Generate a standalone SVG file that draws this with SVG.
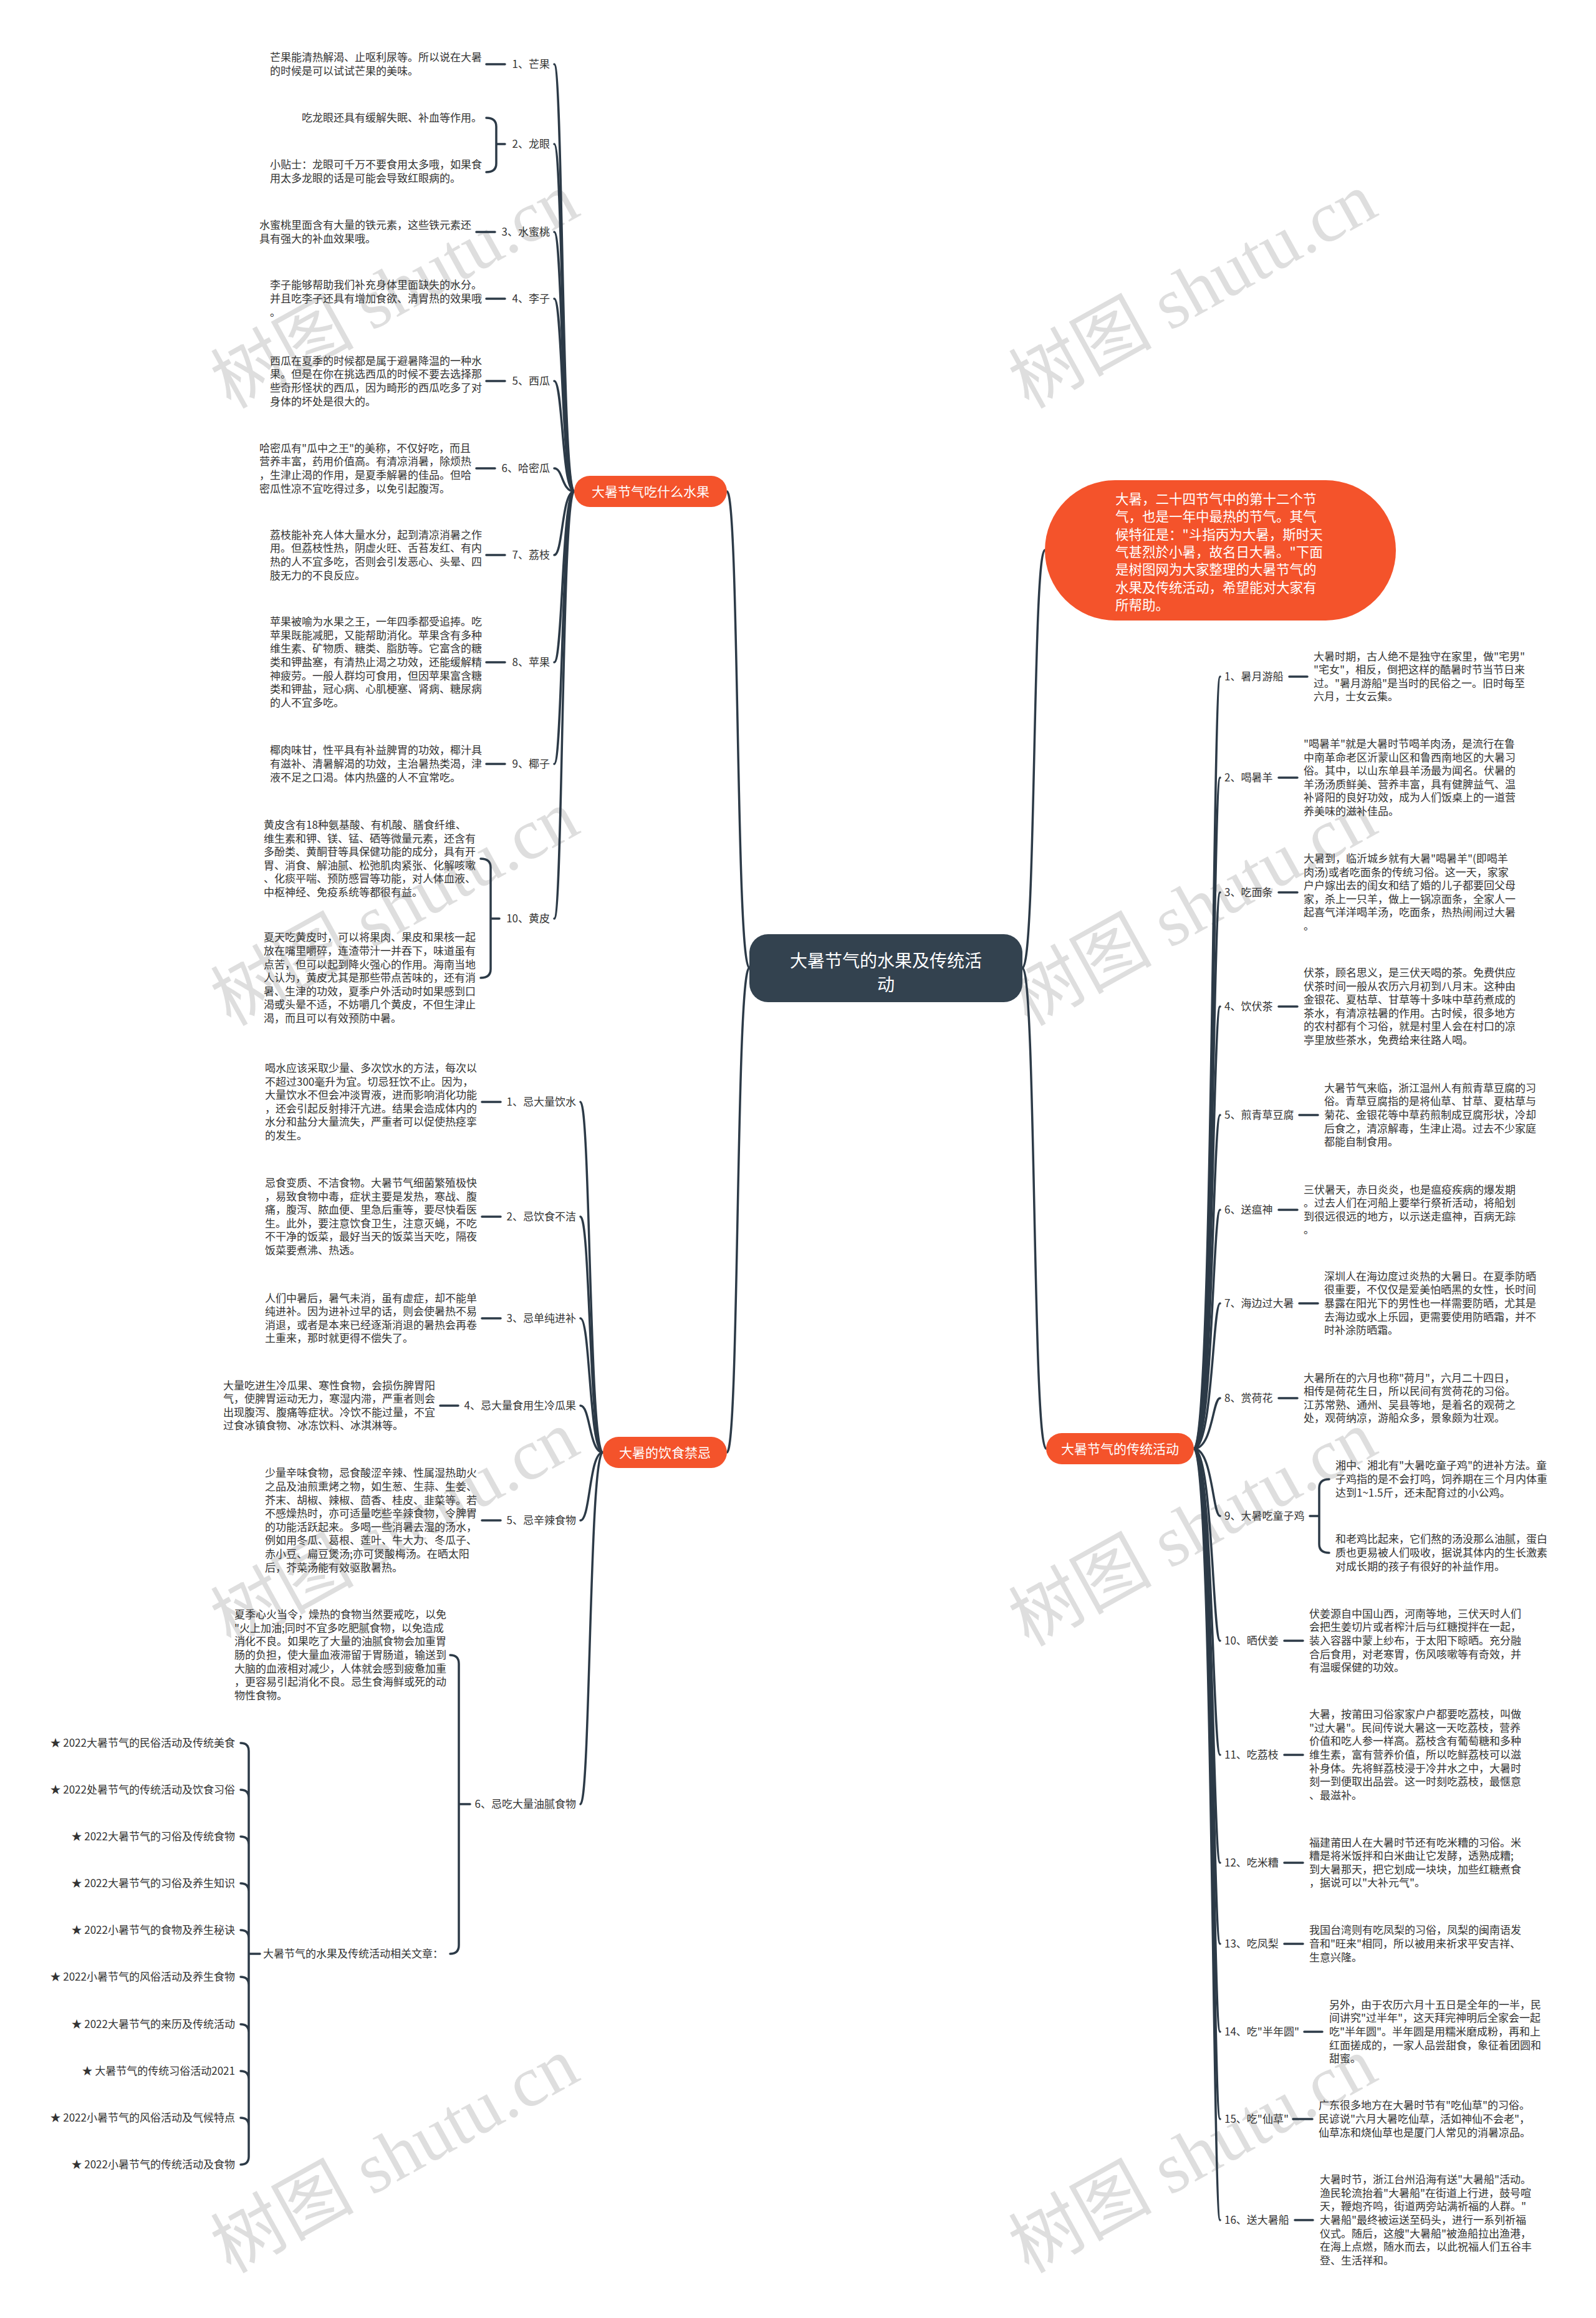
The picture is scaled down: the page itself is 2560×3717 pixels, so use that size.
<svg xmlns="http://www.w3.org/2000/svg" width="2560" height="3717" viewBox="0 0 2560 3717">
<style>
text{font-family:"Noto Sans CJK SC","Liberation Sans",sans-serif;}
.t{font-size:17px;fill:#333333;}
.e{text-anchor:end;}
.ln{fill:none;stroke:#2c3a47;stroke-width:3.5;stroke-linecap:round;}
.pill{fill:#f4532b;}
.pt{font-size:21px;fill:#ffffff;text-anchor:middle;}
.wm{font-family:"Liberation Serif","Noto Sans CJK SC",serif;font-size:115px;fill:#dedede;}
</style>
<rect width="2560" height="3717" fill="#ffffff"/>
<g id="watermarks">
<text class="wm" transform="translate(652,500) rotate(-29)" text-anchor="middle">树图 shutu.cn</text>
<text class="wm" transform="translate(1932,500) rotate(-29)" text-anchor="middle">树图 shutu.cn</text>
<text class="wm" transform="translate(652,1490) rotate(-29)" text-anchor="middle">树图 shutu.cn</text>
<text class="wm" transform="translate(1932,1490) rotate(-29)" text-anchor="middle">树图 shutu.cn</text>
<text class="wm" transform="translate(652,2485) rotate(-29)" text-anchor="middle">树图 shutu.cn</text>
<text class="wm" transform="translate(1932,2485) rotate(-29)" text-anchor="middle">树图 shutu.cn</text>
<text class="wm" transform="translate(652,3490) rotate(-29)" text-anchor="middle">树图 shutu.cn</text>
<text class="wm" transform="translate(1932,3490) rotate(-29)" text-anchor="middle">树图 shutu.cn</text>
</g>
<g id="connectors">
<path class="ln" d="M1202,1552 C1180,1552 1186,788 1166,788"/>
<path class="ln" d="M1202,1552 C1180,1552 1186,2329 1166,2329"/>
<path class="ln" d="M1640,1552 C1662,1552 1656,882 1676,882"/>
<path class="ln" d="M1640,1552 C1662,1552 1656,2323 1678,2323"/>
<path class="ln" d="M921,788 C901,788 903,103 889,103"/>
<path class="ln" d="M921,788 C901,788 903,231 889,231"/>
<path class="ln" d="M921,788 C901,788 903,372 889,372"/>
<path class="ln" d="M921,788 C901,788 903,479 889,479"/>
<path class="ln" d="M921,788 C901,788 903,611 889,611"/>
<path class="ln" d="M921,788 C901,788 903,751 889,751"/>
<path class="ln" d="M921,788 C901,788 903,890 889,890"/>
<path class="ln" d="M921,788 C901,788 903,1062 889,1062"/>
<path class="ln" d="M921,788 C901,788 903,1225 889,1225"/>
<path class="ln" d="M921,788 C901,788 903,1473 889,1473"/>
<path class="ln" d="M780,103 L810,103 M764,372 L794,372 M780,479 L810,479 M780,611 L810,611 M764,751 L794,751 M780,890 L810,890 M780,1062 L810,1062 M780,1225 L810,1225"/>
<path class="ln" d="M810,231 L796,231 M780,189 Q796,189 796,203 L796,262 Q796,276 780,276"/>
<path class="ln" d="M801,1473 L787,1473 M771,1377 Q787,1377 787,1391 L787,1554 Q787,1568 771,1568"/>
<path class="ln" d="M967,2329 C945,2329 947,1767 931,1767"/>
<path class="ln" d="M967,2329 C945,2329 947,1951 931,1951"/>
<path class="ln" d="M967,2329 C945,2329 947,2114 931,2114"/>
<path class="ln" d="M967,2329 C945,2329 947,2254 931,2254"/>
<path class="ln" d="M967,2329 C945,2329 947,2438 931,2438"/>
<path class="ln" d="M967,2329 C945,2329 947,2893 931,2893"/>
<path class="ln" d="M773,1767 L803,1767 M773,1951 L803,1951 M773,2114 L803,2114 M706,2254 L735,2254 M773,2438 L803,2438"/>
<path class="ln" d="M754,2893 L736,2893 M722,2654 Q736,2654 736,2668 L736,3119 Q736,3133 722,3133"/>
<path class="ln" d="M417,3133 L399,3133 M386,2795 Q399,2795 399,2808 L399,3458 Q399,3471 386,3471 M386,2870 Q399,2870 399,2883 M386,2945 Q399,2945 399,2958 M386,3020 Q399,3020 399,3033 M386,3095 Q399,3095 399,3108 M386,3170 Q399,3170 399,3183 M386,3246 Q399,3246 399,3259 M386,3321 Q399,3321 399,3334 M386,3396 Q399,3396 399,3409"/>
<path class="ln" d="M1915,2323 C1945,2323 1945,1085 1957,1085"/>
<path class="ln" d="M1915,2323 C1945,2323 1945,1247 1957,1247"/>
<path class="ln" d="M1915,2323 C1945,2323 1945,1431 1957,1431"/>
<path class="ln" d="M1915,2323 C1945,2323 1945,1614 1957,1614"/>
<path class="ln" d="M1915,2323 C1945,2323 1945,1788 1957,1788"/>
<path class="ln" d="M1915,2323 C1945,2323 1945,1940 1957,1940"/>
<path class="ln" d="M1915,2323 C1945,2323 1945,2090 1957,2090"/>
<path class="ln" d="M1915,2323 C1945,2323 1945,2242 1957,2242"/>
<path class="ln" d="M1915,2323 C1945,2323 1945,2431 1957,2431"/>
<path class="ln" d="M1915,2323 C1945,2323 1945,2631 1957,2631"/>
<path class="ln" d="M1915,2323 C1945,2323 1945,2814 1957,2814"/>
<path class="ln" d="M1915,2323 C1945,2323 1945,2987 1957,2987"/>
<path class="ln" d="M1915,2323 C1945,2323 1945,3117 1957,3117"/>
<path class="ln" d="M1915,2323 C1945,2323 1945,3258 1957,3258"/>
<path class="ln" d="M1915,2323 C1945,2323 1945,3398 1957,3398"/>
<path class="ln" d="M1915,2323 C1945,2323 1945,3560 1957,3560"/>
<path class="ln" d="M2068,1085 L2097,1085 M2051,1247 L2081,1247 M2051,1431 L2081,1431 M2051,1614 L2081,1614 M2084,1788 L2114,1788 M2051,1940 L2081,1940 M2084,2090 L2114,2090 M2051,2242 L2081,2242 M2060,2631 L2090,2631 M2060,2814 L2090,2814 M2060,2987 L2090,2987 M2060,3117 L2090,3117 M2092,3258 L2121,3258 M2074,3398 L2105,3398 M2077,3560 L2106,3560"/>
<path class="ln" d="M2101,2431 L2116,2431 M2132,2372 Q2116,2372 2116,2386 L2116,2476 Q2116,2490 2132,2490"/>
</g>
<g id="center">
<rect x="1202" y="1498" width="438" height="109" rx="30" fill="#33424f"/>
<text x="1421" y="1551" font-size="28" fill="#ffffff" text-anchor="middle">大暑节气的水果及传统活</text>
<text x="1421" y="1589" font-size="28" fill="#ffffff" text-anchor="middle">动</text>
</g>
<g id="intro">
<rect x="1676" y="770" width="563" height="225" rx="112.5" class="pill"/>
<text font-size="21.5" fill="#ffffff">
<tspan x="1789" y="808">大暑，二十四节气中的第十二个节</tspan>
<tspan x="1789" y="836">气，也是一年中最热的节气。其气</tspan>
<tspan x="1789" y="865">候特征是："斗指丙为大暑，斯时天</tspan>
<tspan x="1789" y="893">气甚烈於小暑，故名日大暑。"下面</tspan>
<tspan x="1789" y="921">是树图网为大家整理的大暑节气的</tspan>
<tspan x="1789" y="950">水果及传统活动，希望能对大家有</tspan>
<tspan x="1789" y="978">所帮助。</tspan>
</text>
</g>
<g id="branch-fruits">
<rect x="921" y="763" width="245" height="50" rx="25" class="pill"/>
<text class="pt" x="1043.5" y="796">大暑节气吃什么水果</text>
</g>
<g id="fruit-1">
<text class="t e" x="882" y="109">1、芒果</text>
<text class="t"><tspan x="433" y="98">芒果能清热解渴、止呕利尿等。所以说在大暑</tspan><tspan x="433" y="120">的时候是可以试试芒果的美味。</tspan></text>
</g>
<g id="fruit-2">
<text class="t e" x="882" y="237">2、龙眼</text>
<text class="t e" x="773" y="195">吃龙眼还具有缓解失眠、补血等作用。</text>
<text class="t"><tspan x="433" y="270">小贴士：龙眼可千万不要食用太多哦，如果食</tspan><tspan x="433" y="292">用太多龙眼的话是可能会导致红眼病的。</tspan></text>
</g>
<g id="fruit-3">
<text class="t e" x="882" y="378">3、水蜜桃</text>
<text class="t"><tspan x="416" y="367">水蜜桃里面含有大量的铁元素，这些铁元素还</tspan><tspan x="416" y="389">具有强大的补血效果哦。</tspan></text>
</g>
<g id="fruit-4">
<text class="t e" x="882" y="485">4、李子</text>
<text class="t"><tspan x="433" y="463">李子能够帮助我们补充身体里面缺失的水分。</tspan><tspan x="433" y="485">并且吃李子还具有增加食欲、清胃热的效果哦</tspan><tspan x="433" y="507">。</tspan></text>
</g>
<g id="fruit-5">
<text class="t e" x="882" y="617">5、西瓜</text>
<text class="t"><tspan x="433" y="585">西瓜在夏季的时候都是属于避暑降温的一种水</tspan><tspan x="433" y="606">果。但是在你在挑选西瓜的时候不要去选择那</tspan><tspan x="433" y="628">些奇形怪状的西瓜，因为畸形的西瓜吃多了对</tspan><tspan x="433" y="650">身体的坏处是很大的。</tspan></text>
</g>
<g id="fruit-6">
<text class="t e" x="882" y="757">6、哈密瓜</text>
<text class="t"><tspan x="416" y="725">哈密瓜有"瓜中之王"的美称，不仅好吃，而且</tspan><tspan x="416" y="746">营养丰富，药用价值高。有清凉消暑，除烦热</tspan><tspan x="416" y="768">，生津止渴的作用，是夏季解暑的佳品。但哈</tspan><tspan x="416" y="790">密瓜性凉不宜吃得过多，以免引起腹泻。</tspan></text>
</g>
<g id="fruit-7">
<text class="t e" x="882" y="896">7、荔枝</text>
<text class="t"><tspan x="433" y="864">荔枝能补充人体大量水分，起到清凉消暑之作</tspan><tspan x="433" y="885">用。但荔枝性热，阴虚火旺、舌苔发红、有内</tspan><tspan x="433" y="907">热的人不宜多吃，否则会引发恶心、头晕、四</tspan><tspan x="433" y="929">肢无力的不良反应。</tspan></text>
</g>
<g id="fruit-8">
<text class="t e" x="882" y="1068">8、苹果</text>
<text class="t"><tspan x="433" y="1003">苹果被喻为水果之王，一年四季都受追捧。吃</tspan><tspan x="433" y="1025">苹果既能减肥，又能帮助消化。苹果含有多种</tspan><tspan x="433" y="1046">维生素、矿物质、糖类、脂肪等。它富含的糖</tspan><tspan x="433" y="1068">类和钾盐塞，有清热止渴之功效，还能缓解精</tspan><tspan x="433" y="1090">神疲劳。一般人群均可食用，但因苹果富含糖</tspan><tspan x="433" y="1111">类和钾盐，冠心病、心肌梗塞、肾病、糖尿病</tspan><tspan x="433" y="1133">的人不宜多吃。</tspan></text>
</g>
<g id="fruit-9">
<text class="t e" x="882" y="1231">9、椰子</text>
<text class="t"><tspan x="433" y="1209">椰肉味甘，性平具有补益脾胃的功效，椰汁具</tspan><tspan x="433" y="1231">有滋补、清暑解渴的功效，主治暑热类渴，津</tspan><tspan x="433" y="1253">液不足之口渴。体内热盛的人不宜常吃。</tspan></text>
</g>
<g id="fruit-10">
<text class="t e" x="882" y="1479">10、黄皮</text>
<text class="t"><tspan x="423" y="1329">黄皮含有18种氨基酸、有机酸、膳食纤维、</tspan><tspan x="423" y="1351">维生素和钾、镁、锰、硒等微量元素，还含有</tspan><tspan x="423" y="1372">多酚类、黄酮苷等具保健功能的成分，具有开</tspan><tspan x="423" y="1394">胃、消食、解油腻、松弛肌肉紧张、化解咳嗽</tspan><tspan x="423" y="1415">、化痰平喘、预防感冒等功能，对人体血液、</tspan><tspan x="423" y="1437">中枢神经、免疫系统等都很有益。</tspan></text>
<text class="t"><tspan x="423" y="1509">夏天吃黄皮时，可以将果肉、果皮和果核一起</tspan><tspan x="423" y="1531">放在嘴里嚼碎，连渣带汁一并吞下，味道虽有</tspan><tspan x="423" y="1553">点苦，但可以起到降火强心的作用。海南当地</tspan><tspan x="423" y="1574">人认为，黄皮尤其是那些带点苦味的，还有消</tspan><tspan x="423" y="1596">暑、生津的功效，夏季户外活动时如果感到口</tspan><tspan x="423" y="1617">渴或头晕不适，不妨嚼几个黄皮，不但生津止</tspan><tspan x="423" y="1639">渴，而且可以有效预防中暑。</tspan></text>
</g>
<g id="branch-diet">
<rect x="967" y="2304" width="199" height="50" rx="25" class="pill"/>
<text class="pt" x="1066.5" y="2337">大暑的饮食禁忌</text>
</g>
<g id="diet-1">
<text class="t e" x="924" y="1773">1、忌大量饮水</text>
<text class="t"><tspan x="425" y="1719">喝水应该采取少量、多次饮水的方法，每次以</tspan><tspan x="425" y="1741">不超过300毫升为宜。切忌狂饮不止。因为，</tspan><tspan x="425" y="1762">大量饮水不但会冲淡胃液，进而影响消化功能</tspan><tspan x="425" y="1784">，还会引起反射排汗亢进。结果会造成体内的</tspan><tspan x="425" y="1805">水分和盐分大量流失，严重者可以促使热痉挛</tspan><tspan x="425" y="1827">的发生。</tspan></text>
</g>
<g id="diet-2">
<text class="t e" x="924" y="1957">2、忌饮食不洁</text>
<text class="t"><tspan x="425" y="1903">忌食变质、不洁食物。大暑节气细菌繁殖极快</tspan><tspan x="425" y="1925">，易致食物中毒，症状主要是发热，寒战、腹</tspan><tspan x="425" y="1946">痛，腹泻、脓血便、里急后重等，要尽快看医</tspan><tspan x="425" y="1968">生。此外，要注意饮食卫生，注意灭蝇，不吃</tspan><tspan x="425" y="1989">不干净的饭菜，最好当天的饭菜当天吃，隔夜</tspan><tspan x="425" y="2011">饭菜要煮沸、热透。</tspan></text>
</g>
<g id="diet-3">
<text class="t e" x="924" y="2120">3、忌单纯进补</text>
<text class="t"><tspan x="425" y="2088">人们中暑后，暑气未消，虽有虚症，却不能单</tspan><tspan x="425" y="2109">纯进补。因为进补过早的话，则会使暑热不易</tspan><tspan x="425" y="2131">消退，或者是本来已经逐渐消退的暑热会再卷</tspan><tspan x="425" y="2152">土重来，那时就更得不偿失了。</tspan></text>
</g>
<g id="diet-4">
<text class="t e" x="924" y="2260">4、忌大量食用生冷瓜果</text>
<text class="t"><tspan x="358" y="2228">大量吃进生冷瓜果、寒性食物，会损伤脾胃阳</tspan><tspan x="358" y="2249">气，使脾胃运动无力，寒湿内滞，严重者则会</tspan><tspan x="358" y="2271">出现腹泻、腹痛等症状。冷饮不能过量，不宜</tspan><tspan x="358" y="2292">过食冰镇食物、冰冻饮料、冰淇淋等。</tspan></text>
</g>
<g id="diet-5">
<text class="t e" x="924" y="2444">5、忌辛辣食物</text>
<text class="t"><tspan x="425" y="2368">少量辛味食物，忌食酸涩辛辣、性属湿热助火</tspan><tspan x="425" y="2390">之品及油煎熏烤之物，如生葱、生蒜、生姜、</tspan><tspan x="425" y="2412">芥末、胡椒、辣椒、茴香、桂皮、韭菜等。若</tspan><tspan x="425" y="2433">不感燥热时，亦可适量吃些辛辣食物，令脾胃</tspan><tspan x="425" y="2455">的功能活跃起来。多喝一些消暑去湿的汤水，</tspan><tspan x="425" y="2476">例如用冬瓜、葛根、莲叶、牛大力、冬瓜子、</tspan><tspan x="425" y="2498">赤小豆、扁豆煲汤;亦可煲酸梅汤。在晒太阳</tspan><tspan x="425" y="2520">后，芥菜汤能有效驱散暑热。</tspan></text>
</g>
<g id="diet-6">
<text class="t e" x="924" y="2899">6、忌吃大量油腻食物</text>
<text class="t"><tspan x="376" y="2595">夏季心火当令，燥热的食物当然要戒吃，以免</tspan><tspan x="376" y="2617">"火上加油;同时不宜多吃肥腻食物，以免造成</tspan><tspan x="376" y="2638">消化不良。如果吃了大量的油腻食物会加重胃</tspan><tspan x="376" y="2660">肠的负担，使大量血液滞留于胃肠道，输送到</tspan><tspan x="376" y="2682">大脑的血液相对减少，人体就会感到疲惫加重</tspan><tspan x="376" y="2703">，更容易引起消化不良。忌生食海鲜或死的动</tspan><tspan x="376" y="2725">物性食物。</tspan></text>
</g>
<g id="related">
<text class="t" x="422" y="3139">大暑节气的水果及传统活动相关文章：</text>
<text class="t e" x="377" y="2801">★ 2022大暑节气的民俗活动及传统美食</text>
<text class="t e" x="377" y="2876">★ 2022处暑节气的传统活动及饮食习俗</text>
<text class="t e" x="377" y="2951">★ 2022大暑节气的习俗及传统食物</text>
<text class="t e" x="377" y="3026">★ 2022大暑节气的习俗及养生知识</text>
<text class="t e" x="377" y="3101">★ 2022小暑节气的食物及养生秘诀</text>
<text class="t e" x="377" y="3176">★ 2022小暑节气的风俗活动及养生食物</text>
<text class="t e" x="377" y="3252">★ 2022大暑节气的来历及传统活动</text>
<text class="t e" x="377" y="3327">★ 大暑节气的传统习俗活动2021</text>
<text class="t e" x="377" y="3402">★ 2022小暑节气的风俗活动及气候特点</text>
<text class="t e" x="377" y="3477">★ 2022小暑节气的传统活动及食物</text>
</g>
<g id="branch-customs">
<rect x="1678" y="2298" width="237" height="50" rx="25" class="pill"/>
<text class="pt" x="1796.5" y="2331">大暑节气的传统活动</text>
</g>
<g id="custom-1">
<text class="t" x="1964" y="1091">1、暑月游船</text>
<text class="t"><tspan x="2107" y="1059">大暑时期，古人绝不是独守在家里，做"宅男"</tspan><tspan x="2107" y="1080">"宅女"，相反，倒把这样的酷暑时节当节日来</tspan><tspan x="2107" y="1102">过。"暑月游船"是当时的民俗之一。旧时每至</tspan><tspan x="2107" y="1123">六月，士女云集。</tspan></text>
</g>
<g id="custom-2">
<text class="t" x="1964" y="1253">2、喝暑羊</text>
<text class="t"><tspan x="2091" y="1199">"喝暑羊"就是大暑时节喝羊肉汤，是流行在鲁</tspan><tspan x="2091" y="1221">中南革命老区沂蒙山区和鲁西南地区的大暑习</tspan><tspan x="2091" y="1242">俗。其中，以山东单县羊汤最为闻名。伏暑的</tspan><tspan x="2091" y="1264">羊汤汤质鲜美、营养丰富，具有健脾益气、温</tspan><tspan x="2091" y="1285">补肾阳的良好功效，成为人们饭桌上的一道营</tspan><tspan x="2091" y="1307">养美味的滋补佳品。</tspan></text>
</g>
<g id="custom-3">
<text class="t" x="1964" y="1437">3、吃面条</text>
<text class="t"><tspan x="2091" y="1383">大暑到，临沂城乡就有大暑"喝暑羊"(即喝羊</tspan><tspan x="2091" y="1405">肉汤)或者吃面条的传统习俗。这一天，家家</tspan><tspan x="2091" y="1426">户户嫁出去的闺女和结了婚的儿子都要回父母</tspan><tspan x="2091" y="1448">家，杀上一只羊，做上一锅凉面条，全家人一</tspan><tspan x="2091" y="1469">起喜气洋洋喝羊汤，吃面条，热热闹闹过大暑</tspan><tspan x="2091" y="1491">。</tspan></text>
</g>
<g id="custom-4">
<text class="t" x="1964" y="1620">4、饮伏茶</text>
<text class="t"><tspan x="2091" y="1566">伏茶，顾名思义，是三伏天喝的茶。免费供应</tspan><tspan x="2091" y="1588">伏茶时间一般从农历六月初到八月末。这种由</tspan><tspan x="2091" y="1609">金银花、夏枯草、甘草等十多味中草药煮成的</tspan><tspan x="2091" y="1631">茶水，有清凉祛暑的作用。古时候，很多地方</tspan><tspan x="2091" y="1652">的农村都有个习俗，就是村里人会在村口的凉</tspan><tspan x="2091" y="1674">亭里放些茶水，免费给来往路人喝。</tspan></text>
</g>
<g id="custom-5">
<text class="t" x="1964" y="1794">5、煎青草豆腐</text>
<text class="t"><tspan x="2124" y="1751">大暑节气来临，浙江温州人有煎青草豆腐的习</tspan><tspan x="2124" y="1772">俗。青草豆腐指的是将仙草、甘草、夏枯草与</tspan><tspan x="2124" y="1794">菊花、金银花等中草药煎制成豆腐形状，冷却</tspan><tspan x="2124" y="1816">后食之，清凉解毒，生津止渴。过去不少家庭</tspan><tspan x="2124" y="1837">都能自制食用。</tspan></text>
</g>
<g id="custom-6">
<text class="t" x="1964" y="1946">6、送瘟神</text>
<text class="t"><tspan x="2091" y="1914">三伏暑天，赤日炎炎，也是瘟疫疾病的爆发期</tspan><tspan x="2091" y="1935">。过去人们在河船上要举行祭祈活动，将船划</tspan><tspan x="2091" y="1957">到很远很远的地方，以示送走瘟神，百病无踪</tspan><tspan x="2091" y="1978">。</tspan></text>
</g>
<g id="custom-7">
<text class="t" x="1964" y="2096">7、海边过大暑</text>
<text class="t"><tspan x="2124" y="2053">深圳人在海边度过炎热的大暑日。在夏季防晒</tspan><tspan x="2124" y="2074">很重要，不仅仅是爱美怕晒黑的女性，长时间</tspan><tspan x="2124" y="2096">暴露在阳光下的男性也一样需要防晒，尤其是</tspan><tspan x="2124" y="2118">去海边或水上乐园，更需要使用防晒霜，并不</tspan><tspan x="2124" y="2139">时补涂防晒霜。</tspan></text>
</g>
<g id="custom-8">
<text class="t" x="1964" y="2248">8、赏荷花</text>
<text class="t"><tspan x="2091" y="2216">大暑所在的六月也称"荷月"，六月二十四日，</tspan><tspan x="2091" y="2237">相传是荷花生日，所以民间有赏荷花的习俗。</tspan><tspan x="2091" y="2259">江苏常熟、通州、吴县等地，是着名的观荷之</tspan><tspan x="2091" y="2280">处，观荷纳凉，游船众多，景象颇为壮观。</tspan></text>
</g>
<g id="custom-9">
<text class="t" x="1964" y="2437">9、大暑吃童子鸡</text>
<text class="t"><tspan x="2142" y="2356">湘中、湘北有"大暑吃童子鸡"的进补方法。童</tspan><tspan x="2142" y="2378">子鸡指的是不会打鸣，饲养期在三个月内体重</tspan><tspan x="2142" y="2400">达到1~1.5斤，还未配育过的小公鸡。</tspan></text>
<text class="t"><tspan x="2142" y="2474">和老鸡比起来，它们熬的汤没那么油腻，蛋白</tspan><tspan x="2142" y="2496">质也更易被人们吸收，据说其体内的生长激素</tspan><tspan x="2142" y="2518">对成长期的孩子有很好的补益作用。</tspan></text>
</g>
<g id="custom-10">
<text class="t" x="1964" y="2637">10、晒伏姜</text>
<text class="t"><tspan x="2100" y="2594">伏姜源自中国山西，河南等地，三伏天时人们</tspan><tspan x="2100" y="2615">会把生姜切片或者榨汁后与红糖搅拌在一起，</tspan><tspan x="2100" y="2637">装入容器中蒙上纱布，于太阳下晾晒。充分融</tspan><tspan x="2100" y="2659">合后食用，对老寒胃，伤风咳嗽等有奇效，并</tspan><tspan x="2100" y="2680">有温暖保健的功效。</tspan></text>
</g>
<g id="custom-11">
<text class="t" x="1964" y="2820">11、吃荔枝</text>
<text class="t"><tspan x="2100" y="2755">大暑，按莆田习俗家家户户都要吃荔枝，叫做</tspan><tspan x="2100" y="2777">"过大暑"。民间传说大暑这一天吃荔枝，营养</tspan><tspan x="2100" y="2798">价值和吃人参一样高。荔枝含有葡萄糖和多种</tspan><tspan x="2100" y="2820">维生素，富有营养价值，所以吃鲜荔枝可以滋</tspan><tspan x="2100" y="2842">补身体。先将鲜荔枝浸于冷井水之中，大暑时</tspan><tspan x="2100" y="2863">刻一到便取出品尝。这一时刻吃荔枝，最惬意</tspan><tspan x="2100" y="2885">、最滋补。</tspan></text>
</g>
<g id="custom-12">
<text class="t" x="1964" y="2993">12、吃米糟</text>
<text class="t"><tspan x="2100" y="2961">福建莆田人在大暑时节还有吃米糟的习俗。米</tspan><tspan x="2100" y="2982">糟是将米饭拌和白米曲让它发酵，透熟成糟;</tspan><tspan x="2100" y="3004">到大暑那天，把它划成一块块，加些红糖煮食</tspan><tspan x="2100" y="3025">，据说可以"大补元气"。</tspan></text>
</g>
<g id="custom-13">
<text class="t" x="1964" y="3123">13、吃凤梨</text>
<text class="t"><tspan x="2100" y="3101">我国台湾则有吃凤梨的习俗，凤梨的闽南语发</tspan><tspan x="2100" y="3123">音和"旺来"相同，所以被用来祈求平安吉祥、</tspan><tspan x="2100" y="3145">生意兴隆。</tspan></text>
</g>
<g id="custom-14">
<text class="t" x="1964" y="3264">14、吃"半年圆"</text>
<text class="t"><tspan x="2132" y="3221">另外，由于农历六月十五日是全年的一半，民</tspan><tspan x="2132" y="3242">间讲究"过半年"，这天拜完神明后全家会一起</tspan><tspan x="2132" y="3264">吃"半年圆"。半年圆是用糯米磨成粉，再和上</tspan><tspan x="2132" y="3286">红面搓成的，一家人品尝甜食，象征着团圆和</tspan><tspan x="2132" y="3307">甜蜜。</tspan></text>
</g>
<g id="custom-15">
<text class="t" x="1964" y="3404">15、吃"仙草"</text>
<text class="t"><tspan x="2115" y="3382">广东很多地方在大暑时节有"吃仙草"的习俗。</tspan><tspan x="2115" y="3404">民谚说"六月大暑吃仙草，活如神仙不会老"，</tspan><tspan x="2115" y="3426">仙草冻和烧仙草也是厦门人常见的消暑凉品。</tspan></text>
</g>
<g id="custom-16">
<text class="t" x="1964" y="3566">16、送大暑船</text>
<text class="t"><tspan x="2117" y="3501">大暑时节，浙江台州沿海有送"大暑船"活动。</tspan><tspan x="2117" y="3523">渔民轮流抬着"大暑船"在街道上行进，鼓号喧</tspan><tspan x="2117" y="3544">天，鞭炮齐鸣，街道两旁站满祈福的人群。"</tspan><tspan x="2117" y="3566">大暑船"最终被运送至码头，进行一系列祈福</tspan><tspan x="2117" y="3588">仪式。随后，这艘"大暑船"被渔船拉出渔港，</tspan><tspan x="2117" y="3609">在海上点燃，随水而去，以此祝福人们五谷丰</tspan><tspan x="2117" y="3631">登、生活祥和。</tspan></text>
</g>
</svg>
